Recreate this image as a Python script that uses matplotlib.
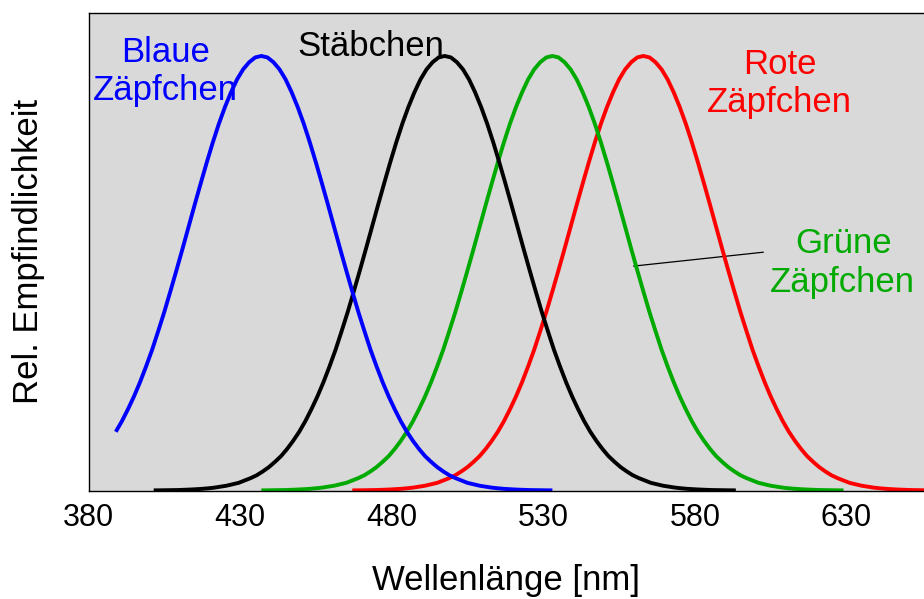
import matplotlib
matplotlib.use("Agg")
import matplotlib.pyplot as plt

plt.rcParams['font.family'] = ['Liberation Sans', 'DejaVu Sans']

# Data (relative sensitivity, 0..1 of axis height)
blue_wl = [389, 391, 393, 395, 397, 399, 401, 403, 405, 407, 409, 411, 413, 415, 417, 419,
           421, 423, 425, 427, 429, 431, 433, 435, 437, 439, 441, 443, 445, 447, 449, 451,
           453, 455, 457, 459, 461, 463, 465, 467, 469, 471, 473, 475, 477, 479, 481, 483,
           485, 487, 489, 491, 493, 495, 497, 499, 501, 503, 505, 507, 509, 511, 513, 515,
           517, 519, 521, 523, 525, 527, 529, 531, 533]
blue_val = [0.123, 0.145, 0.170, 0.197, 0.227, 0.260, 0.295, 0.334, 0.374, 0.417, 0.461, 0.506,
            0.552, 0.598, 0.643, 0.687, 0.729, 0.768, 0.803, 0.834, 0.861, 0.882, 0.897, 0.907,
            0.910,
            0.907, 0.897, 0.882, 0.861, 0.834, 0.803, 0.768, 0.729, 0.687, 0.643, 0.598, 0.552,
            0.506, 0.461, 0.417, 0.374, 0.334, 0.295, 0.260, 0.227, 0.197, 0.170, 0.145, 0.123,
            0.104, 0.087, 0.072, 0.060, 0.049, 0.040, 0.032, 0.026, 0.021, 0.016, 0.013, 0.010,
            0.008, 0.006, 0.0046, 0.0035, 0.0027, 0.002, 0.0015, 0.001, 0.0008, 0.0006, 0.0004,
            0.0003]

rod_wl = [401.5, 403.5, 405.5, 407.5, 409.5, 411.5, 413.5, 415.5, 417.5, 419.5, 421.5, 423.5,
          425.5, 427.5, 429.5, 431.5, 433.5, 435.5, 437.5, 439.5, 441.5, 443.5, 445.5, 447.5,
          449.5, 451.5, 453.5, 455.5, 457.5, 459.5, 461.5, 463.5, 465.5, 467.5, 469.5, 471.5,
          473.5, 475.5, 477.5, 479.5, 481.5, 483.5, 485.5, 487.5, 489.5, 491.5, 493.5, 495.5,
          497.5,
          499.5, 501.5, 503.5, 505.5, 507.5, 509.5, 511.5, 513.5, 515.5, 517.5, 519.5, 521.5,
          523.5, 525.5, 527.5, 529.5, 531.5, 533.5, 535.5, 537.5, 539.5, 541.5, 543.5, 545.5,
          547.5, 549.5, 551.5, 553.5, 555.5, 557.5, 559.5, 561.5, 563.5, 565.5, 567.5, 569.5,
          571.5, 573.5, 575.5, 577.5, 579.5, 581.5, 583.5, 585.5, 587.5, 589.5, 591.5, 593.5]
rod_val = [0.0003, 0.0004, 0.0006, 0.0008, 0.001, 0.0015, 0.002, 0.0027, 0.0035, 0.0046, 0.006,
           0.008, 0.010, 0.013, 0.016, 0.021, 0.026, 0.032, 0.040, 0.049, 0.060, 0.072, 0.087,
           0.104, 0.123, 0.145, 0.170, 0.197, 0.227, 0.260, 0.295, 0.334, 0.374, 0.417, 0.461,
           0.506, 0.552, 0.598, 0.643, 0.687, 0.729, 0.768, 0.803, 0.834, 0.861, 0.882, 0.897,
           0.907,
           0.910,
           0.907, 0.897, 0.882, 0.861, 0.834, 0.803, 0.768, 0.729, 0.687, 0.643, 0.598, 0.552,
           0.506, 0.461, 0.417, 0.374, 0.334, 0.295, 0.260, 0.227, 0.197, 0.170, 0.145, 0.123,
           0.104, 0.087, 0.072, 0.060, 0.049, 0.040, 0.032, 0.026, 0.021, 0.016, 0.013, 0.010,
           0.008, 0.006, 0.0046, 0.0035, 0.0027, 0.002, 0.0015, 0.001, 0.0008, 0.0006, 0.0004,
           0.0003]

green_wl = [437, 439, 441, 443, 445, 447, 449, 451, 453, 455, 457, 459, 461, 463, 465, 467,
            469, 471, 473, 475, 477, 479, 481, 483, 485, 487, 489, 491, 493, 495, 497, 499,
            501, 503, 505, 507, 509, 511, 513, 515, 517, 519, 521, 523, 525, 527, 529, 531,
            533,
            535, 537, 539, 541, 543, 545, 547, 549, 551, 553, 555, 557, 559, 561, 563, 565,
            567, 569, 571, 573, 575, 577, 579, 581, 583, 585, 587, 589, 591, 593, 595, 597,
            599, 601, 603, 605, 607, 609, 611, 613, 615, 617, 619, 621, 623, 625, 627, 629]
green_val = [0.0003, 0.0004, 0.0006, 0.0008, 0.001, 0.0015, 0.002, 0.0027, 0.0035, 0.0046, 0.006,
             0.008, 0.010, 0.013, 0.016, 0.021, 0.026, 0.032, 0.040, 0.049, 0.060, 0.072, 0.087,
             0.104, 0.123, 0.145, 0.170, 0.197, 0.227, 0.260, 0.295, 0.334, 0.374, 0.417, 0.461,
             0.506, 0.552, 0.598, 0.643, 0.687, 0.729, 0.768, 0.803, 0.834, 0.861, 0.882, 0.897,
             0.907,
             0.910,
             0.907, 0.897, 0.882, 0.861, 0.834, 0.803, 0.768, 0.729, 0.687, 0.643, 0.598, 0.552,
             0.506, 0.461, 0.417, 0.374, 0.334, 0.295, 0.260, 0.227, 0.197, 0.170, 0.145, 0.123,
             0.104, 0.087, 0.072, 0.060, 0.049, 0.040, 0.032, 0.026, 0.021, 0.016, 0.013, 0.010,
             0.008, 0.006, 0.0046, 0.0035, 0.0027, 0.002, 0.0015, 0.001, 0.0008, 0.0006, 0.0004,
             0.0003]

red_wl = [467, 469, 471, 473, 475, 477, 479, 481, 483, 485, 487, 489, 491, 493, 495, 497,
          499, 501, 503, 505, 507, 509, 511, 513, 515, 517, 519, 521, 523, 525, 527, 529,
          531, 533, 535, 537, 539, 541, 543, 545, 547, 549, 551, 553, 555, 557, 559, 561,
          563,
          565, 567, 569, 571, 573, 575, 577, 579, 581, 583, 585, 587, 589, 591, 593, 595,
          597, 599, 601, 603, 605, 607, 609, 611, 613, 615, 617, 619, 621, 623, 625, 627,
          629, 631, 633, 635, 637, 639, 641, 643, 645, 647, 649, 651, 653, 655, 657, 659]
red_val = [0.0003, 0.0004, 0.0006, 0.0008, 0.001, 0.0015, 0.002, 0.0027, 0.0035, 0.0046, 0.006,
           0.008, 0.010, 0.013, 0.016, 0.021, 0.026, 0.032, 0.040, 0.049, 0.060, 0.072, 0.087,
           0.104, 0.123, 0.145, 0.170, 0.197, 0.227, 0.260, 0.295, 0.334, 0.374, 0.417, 0.461,
           0.506, 0.552, 0.598, 0.643, 0.687, 0.729, 0.768, 0.803, 0.834, 0.861, 0.882, 0.897,
           0.907,
           0.910,
           0.907, 0.897, 0.882, 0.861, 0.834, 0.803, 0.768, 0.729, 0.687, 0.643, 0.598, 0.552,
           0.506, 0.461, 0.417, 0.374, 0.334, 0.295, 0.260, 0.227, 0.197, 0.170, 0.145, 0.123,
           0.104, 0.087, 0.072, 0.060, 0.049, 0.040, 0.032, 0.026, 0.021, 0.016, 0.013, 0.010,
           0.008, 0.006, 0.0046, 0.0035, 0.0027, 0.002, 0.0015, 0.001, 0.0008, 0.0006, 0.0004,
           0.0003]

x_ticks = [380, 430, 480, 530, 580, 630]

BLUE = '#0000FF'
BLACK = '#000000'
GREEN = '#00AA00'
RED = '#FF0000'

fig = plt.figure(figsize=(9.24, 5.99), dpi=100)
ax = fig.add_axes([88.5 / 924, 1 - 490.5 / 599, 1 - 88.5 / 924, 477.5 / 599])
ax.set_facecolor('#D9D9D9')

fs = 25
ax.text(405.4, 0.898, 'Blaue', color=BLUE, fontsize=fs, ha='center', va='baseline', zorder=1)
ax.text(405.4, 0.818, 'Zäpfchen', color=BLUE, fontsize=fs, ha='center', va='baseline', zorder=1)
ax.text(473.2, 0.909, 'Stäbchen', color=BLACK, fontsize=fs, ha='center', va='baseline', zorder=1)
ax.text(607.9, 0.872, 'Rote', color=RED, fontsize=fs, ha='center', va='baseline', zorder=1)
ax.text(607.7, 0.793, 'Zäpfchen', color=RED, fontsize=fs, ha='center', va='baseline', zorder=1)
ax.text(629.0, 0.497, 'Grüne', color=GREEN, fontsize=fs, ha='center', va='baseline', zorder=1)
ax.text(628.8, 0.416, 'Zäpfchen', color=GREEN, fontsize=fs, ha='center', va='baseline', zorder=1)

ax.plot([559.85, 602.5], [0.470, 0.499], color='black', lw=0.9, zorder=1.5)

lw = 2.8
kw = dict(lw=lw, solid_capstyle='butt', solid_joinstyle='round')
ax.plot(red_wl, red_val, color=RED, zorder=2.0, **kw)
ax.plot(green_wl, green_val, color=GREEN, zorder=2.1, **kw)
ax.plot(rod_wl, rod_val, color=BLACK, zorder=2.2, **kw)
ax.plot(blue_wl, blue_val, color=BLUE, zorder=2.3, **kw)

ax.set_xlim(380, 380 + (924 - 88.5) / 3.032)
ax.set_ylim(0, 1)

ax.set_xticks(x_ticks)
ax.set_xticklabels([str(t) for t in x_ticks])
ax.set_yticks([])
ax.tick_params(axis='x', length=0, pad=9, labelsize=22)

for s in ['left', 'bottom', 'top']:
    ax.spines[s].set_color('black')
    ax.spines[s].set_linewidth(1.0)
ax.spines['right'].set_visible(False)

ax.set_xlabel('Wellenlänge [nm]', fontsize=25, labelpad=22)
ax.set_ylabel('Rel. Empfindlichkeit', fontsize=25, labelpad=31)

fig.savefig('out.png', dpi=100)
